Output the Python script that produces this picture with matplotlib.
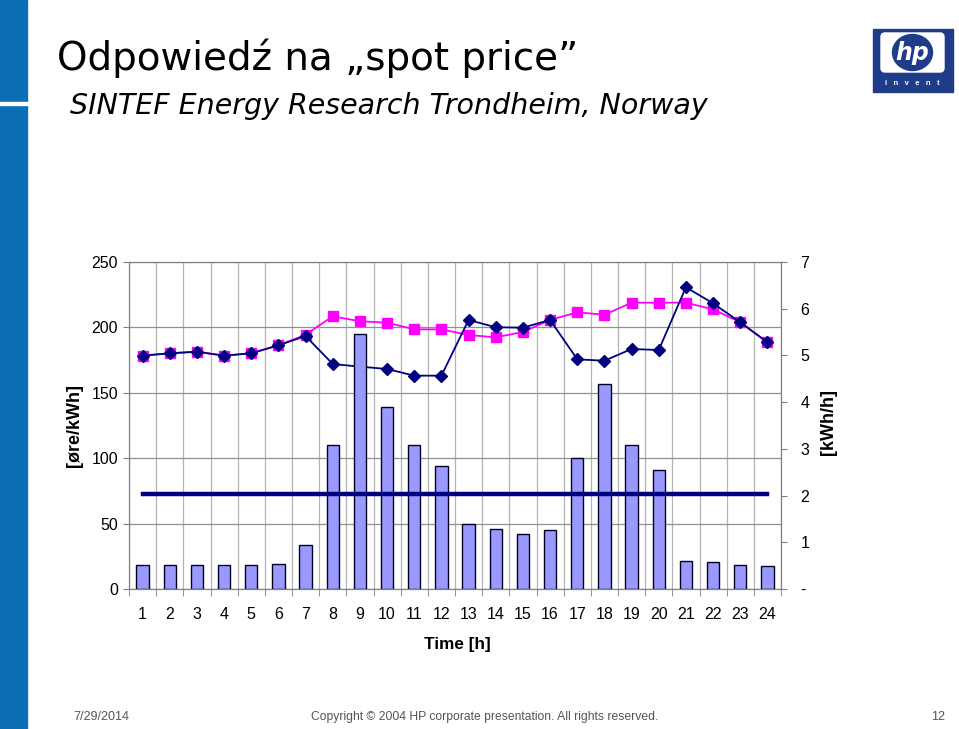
import numpy as np
import matplotlib.pyplot as plt
from matplotlib.patches import Rectangle, FancyBboxPatch, Ellipse
from matplotlib.ticker import FixedLocator

# hours of the day
hours = [str(h) for h in range(1, 25)]

# consumption [kWh/h] (bars, right axis)
load = [0.51, 0.51, 0.51, 0.51, 0.51, 0.54, 0.94, 3.09, 5.45, 3.90, 3.09, 2.63,
        1.39, 1.28, 1.17, 1.26, 2.80, 4.39, 3.09, 2.55, 0.60, 0.57, 0.52, 0.49]
# flat reference load [kWh/h]
flat_load = [2.03, 2.03, 2.03, 2.03, 2.03, 2.03, 2.03, 2.03, 2.03, 2.03, 2.03, 2.03,
             2.03, 2.03, 2.03, 2.03, 2.03, 2.03, 2.03, 2.03, 2.03, 2.03, 2.03, 2.03]

# prices [ore/kWh] (left axis)
price_diamond = [178.4, 180.2, 181.4, 178.4, 180.2, 186.3, 193.4, 172.0, 170.0, 168.2,
                 163.1, 163.1, 205.7, 200.1, 199.8, 205.7, 175.6, 174.5, 183.5, 182.7,
                 230.7, 218.4, 203.9, 188.6]
price_square = [178.4, 180.2, 181.4, 178.4, 180.2, 186.3, 194.4, 208.5, 204.7, 203.6,
                198.5, 198.5, 194.2, 192.4, 196.5, 205.7, 211.5, 209.7, 218.9, 218.9,
                218.9, 213.8, 203.9, 188.6]

left_ticks = [0, 50, 100, 150, 200, 250]
right_ticks = [0, 1, 2, 3, 4, 5, 6, 7]
right_labels = ['-', '1', '2', '3', '4', '5', '6', '7']

W, H = 959, 729
plt.rcParams['font.family'] = ['Liberation Sans', 'DejaVu Sans']
fig = plt.figure(figsize=(W / 100, H / 100), dpi=100)

x = np.arange(len(hours))

ax = fig.add_axes([129 / W, 1 - 589 / H, 652 / W, 327 / H])
ax.set_xlim(-0.5, len(hours) - 0.5)
ax.set_ylim(0, 250)
ax.set_yticks(left_ticks)
ax.set_xticks(x)
ax.set_xticklabels(hours, fontsize=11.5)
ax.xaxis.set_minor_locator(FixedLocator(np.arange(-0.5, len(hours), 1.0)))
ax.tick_params(axis='x', which='major', length=0, pad=13)
ax.tick_params(axis='x', which='minor', length=5, color='#808080')
ax.tick_params(axis='y', length=4, color='#808080', labelsize=11.5, pad=4)
for s in ax.spines.values():
    s.set_color('#808080')
ax.grid(axis='y', color='#909090', lw=0.9)
ax.grid(axis='x', which='minor', color='#b4b4b4', lw=0.9)
ax.set_axisbelow(True)

ax.plot(x, price_square, color='#ff00ff', lw=1.3, marker='s', ms=7,
        markeredgecolor='#ff00ff', zorder=3)
ax.plot(x, price_diamond, color='#000080', lw=1.3, marker='D', ms=6.5,
        markeredgecolor='#000080', zorder=4)

ax2 = ax.twinx()
ax2.set_ylim(0, 7)
ax2.set_yticks(right_ticks)
ax2.set_yticklabels(right_labels)
ax2.tick_params(axis='y', length=4, color='#808080', labelsize=11.5, pad=10)
for s in ax2.spines.values():
    s.set_color('#808080')
ax2.bar(x, load, width=0.45, color='#9999ff', edgecolor='#000022', lw=1.0, zorder=2)
ax2.plot(x, flat_load, color='#000080', lw=3.2, zorder=3)

fig.text(75 / W, 1 - 425 / H, '[øre/kWh]', rotation=90, ha='center', va='center',
         fontsize=13, fontweight='bold')
fig.text(829 / W, 1 - 422 / H, '[kWh/h]', rotation=90, ha='center', va='center',
         fontsize=13, fontweight='bold')
fig.text(457 / W, 1 - 645 / H, 'Time [h]', ha='center', va='center',
         fontsize=12.3, fontweight='bold')

# slide decoration in pixel coordinates
deco = fig.add_axes([0, 0, 1, 1], zorder=-1)
deco.set_xlim(0, W)
deco.set_ylim(H, 0)
deco.axis('off')
deco.add_patch(Rectangle((0, 0), 27, H, color='#0b6db3'))
deco.add_patch(Rectangle((0, 101.5), 28, 3, color='white'))

logo = fig.add_axes([0, 0, 1, 1], zorder=5)
logo.set_xlim(0, W)
logo.set_ylim(H, 0)
logo.axis('off')
logo.add_patch(Rectangle((873, 29), 80, 63, color='#1f3c88'))
logo.add_patch(FancyBboxPatch((881, 33), 63, 39, boxstyle='round,pad=0,rounding_size=4',
                              color='white'))
logo.add_patch(Ellipse((912.5, 52.5), 40, 36, color='#1f3c88'))
logo.text(912.5, 53, 'hp', color='white', fontsize=17, fontweight='bold', style='italic',
          ha='center', va='center', family='DejaVu Sans')
logo.text(912.5, 83, 'i   n   v   e   n   t', color='white', fontsize=5.5, fontweight='bold',
          ha='center', va='center')

fig.text(57 / W, 1 - 70 / H, 'Odpowiedź na „spot price”', fontsize=28,
         family='DejaVu Sans', va='baseline')
fig.text(70 / W, 1 - 114 / H, 'SINTEF Energy Research Trondheim, Norway', fontsize=20.5,
         family='DejaVu Sans', style='italic', va='baseline')

fig.text(73 / W, 1 - 717 / H, '7/29/2014', fontsize=9, color='#555555', va='center')
fig.text(485 / W, 1 - 717 / H, 'Copyright © 2004 HP corporate presentation. All rights reserved.',
         fontsize=8.7, color='#555555', va='center', ha='center')
fig.text(945 / W, 1 - 717 / H, '12', fontsize=9, color='#555555', va='center', ha='right')

fig.savefig('out.png', dpi=100)
